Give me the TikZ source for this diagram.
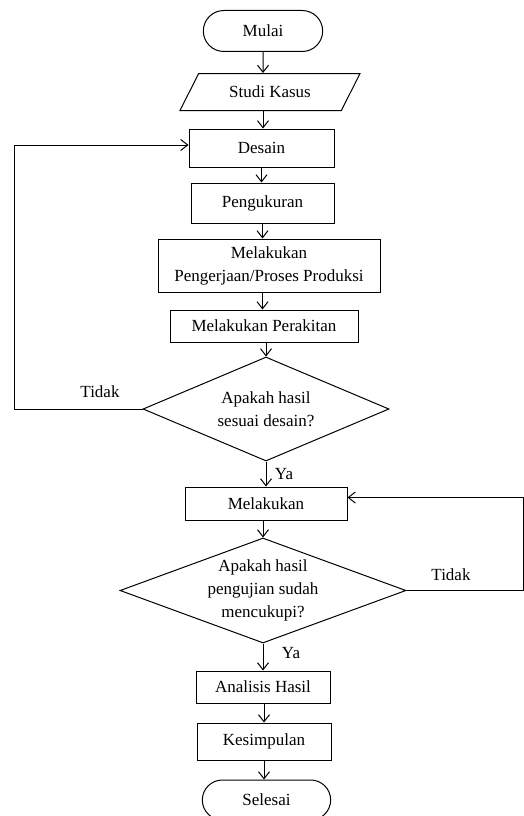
\documentclass[tikz,border=0pt]{standalone}
\usepackage{fontspec}
\setmainfont{Liberation Serif}
\usetikzlibrary{shapes.geometric, shapes.misc, arrows.meta, positioning}
\tikzset{
  terminal/.style={draw, rounded rectangle, minimum width=126pt, minimum height=41pt},
  io/.style={draw, trapezium, trapezium left angle=45, trapezium right angle=135, trapezium stretches body, minimum width=180pt, minimum height=37pt},
  process/.style={draw, rectangle, minimum height=36pt},
  decision/.style={draw, diamond, aspect=2.6, inner sep=0pt, align=center},
  every node/.style={font=\fontsize{17}{23}\selectfont}
}

\begin{document}
\begin{tikzpicture}[x=1pt, y=-1pt, >={Straight Barb[length=7pt,width=11pt]}, line width=1pt]
\useasboundingbox (0,0) rectangle (524,816);
\node[terminal] (mulai) at (263,31) {Mulai};
\node[io] (studi) at (270,92) {Studi Kasus};
\node[process, minimum width=145pt, minimum height=38pt] (desain) at (261.5,148) {Desain};
\node[process, minimum width=143pt, minimum height=40pt] (ukur) at (262.5,203) {Pengukuran};
\node[process, minimum width=222pt, minimum height=53pt, align=center] (kerja) at (269,265.5) {Melakukan\\Pengerjaan/Proses Produksi};
\node[process, minimum width=188pt, minimum height=32pt] (rakit) at (264,326) {Melakukan Perakitan};
\node[decision, minimum width=246pt, minimum height=104pt] (cek1) at (266,409) {Apakah hasil\\sesuai desain?};
\node[process, minimum width=162pt, minimum height=33pt] (uji) at (266,503.5) {Melakukan};
\node[decision, minimum width=286pt, minimum height=105pt] (cek2) at (263,590.5) {Apakah hasil\\pengujian sudah\\mencukupi?};
\node[process, minimum width=134pt, minimum height=32pt] (analisis) at (263,687) {Analisis Hasil};
\node[process, minimum width=134pt, minimum height=37pt] (simpul) at (264,741.5) {Kesimpulan};
\node[terminal, minimum width=135pt, minimum height=40pt] (selesai) at (266.5,800) {Selesai};
% labels of the branches
\node (tidak1) at (100,392) {Tidak};
\node (ya1) at (284,474) {Ya};
\node (tidak2) at (451,575) {Tidak};
\node (ya2) at (291,653) {Ya};
\coordinate (kiri) at (14,409);
\coordinate (kanan) at (523,590.5);
% main flow
\draw[->] (mulai) -- (mulai |- studi.north);
\draw[->] (mulai |- studi.south) -- (mulai |- desain.north);
\draw[->] (desain) -- (desain |- ukur.north);
\draw[->] (ukur) -- (ukur |- kerja.north);
\draw[->] (ukur |- kerja.south) -- (ukur |- rakit.north);
\draw[->] (cek1 |- rakit.south) -- (cek1.north);
\draw[->] (cek1.south) -- (cek1 |- uji.north);
\draw[->] (cek2 |- uji.south) -- (cek2.north);
\draw[->] (cek2.south) -- (cek2 |- analisis.north);
\draw[->] (simpul |- analisis.south) -- (simpul.north);
\draw[->] (simpul.south) -- (simpul |- selesai.north);
% loops back
\draw[->] (cek1.west) -- (kiri) |- ([yshift=3pt]desain.west);
\draw[->] (cek2.east) -- (kanan) |- ([yshift=6pt]uji.east);
\end{tikzpicture}
\end{document}
